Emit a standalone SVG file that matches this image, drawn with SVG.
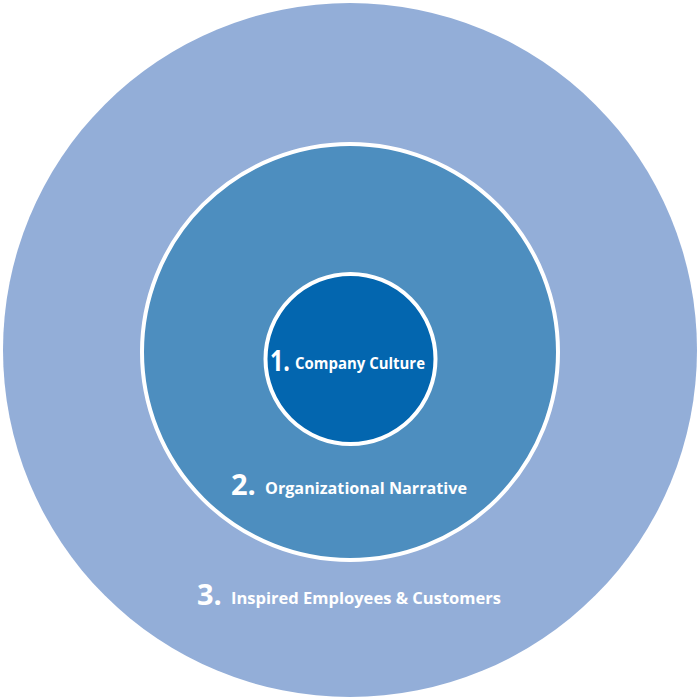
<svg xmlns="http://www.w3.org/2000/svg" width="700" height="700" viewBox="0 0 700 700">
<style>
.num{font-family:"Open Sans","Liberation Sans",sans-serif;font-weight:700;fill:#fff;}
.lbl{font-family:"Open Sans","Liberation Sans",sans-serif;font-weight:700;fill:#fff;}
</style>
<rect width="700" height="700" fill="#fff"/>
<g id="outer">
<circle cx="350" cy="350" r="347" fill="#93AED8"/>
<text x="197" y="605" class="num" font-size="29">3.</text>
<text x="231" y="604" class="lbl" font-size="16" textLength="270" lengthAdjust="spacingAndGlyphs">Inspired Employees &amp; Customers</text>
</g>
<g id="middle">
<circle cx="350" cy="352" r="208" fill="#4D8EBF" stroke="#fff" stroke-width="4"/>
<text x="231" y="495" class="num" font-size="29">2.</text>
<text x="265" y="494" class="lbl" font-size="16" textLength="202" lengthAdjust="spacingAndGlyphs">Organizational Narrative</text>
</g>
<g id="inner">
<circle cx="350.5" cy="359" r="85" fill="#0366AF" stroke="#fff" stroke-width="4"/>
<text x="270" y="371" class="num" font-size="29" textLength="20" lengthAdjust="spacingAndGlyphs">1.</text>
<text x="295" y="369" class="lbl" font-size="15.5" textLength="130" lengthAdjust="spacingAndGlyphs">Company Culture</text>
</g>
<g id="connectors"/>
</svg>
